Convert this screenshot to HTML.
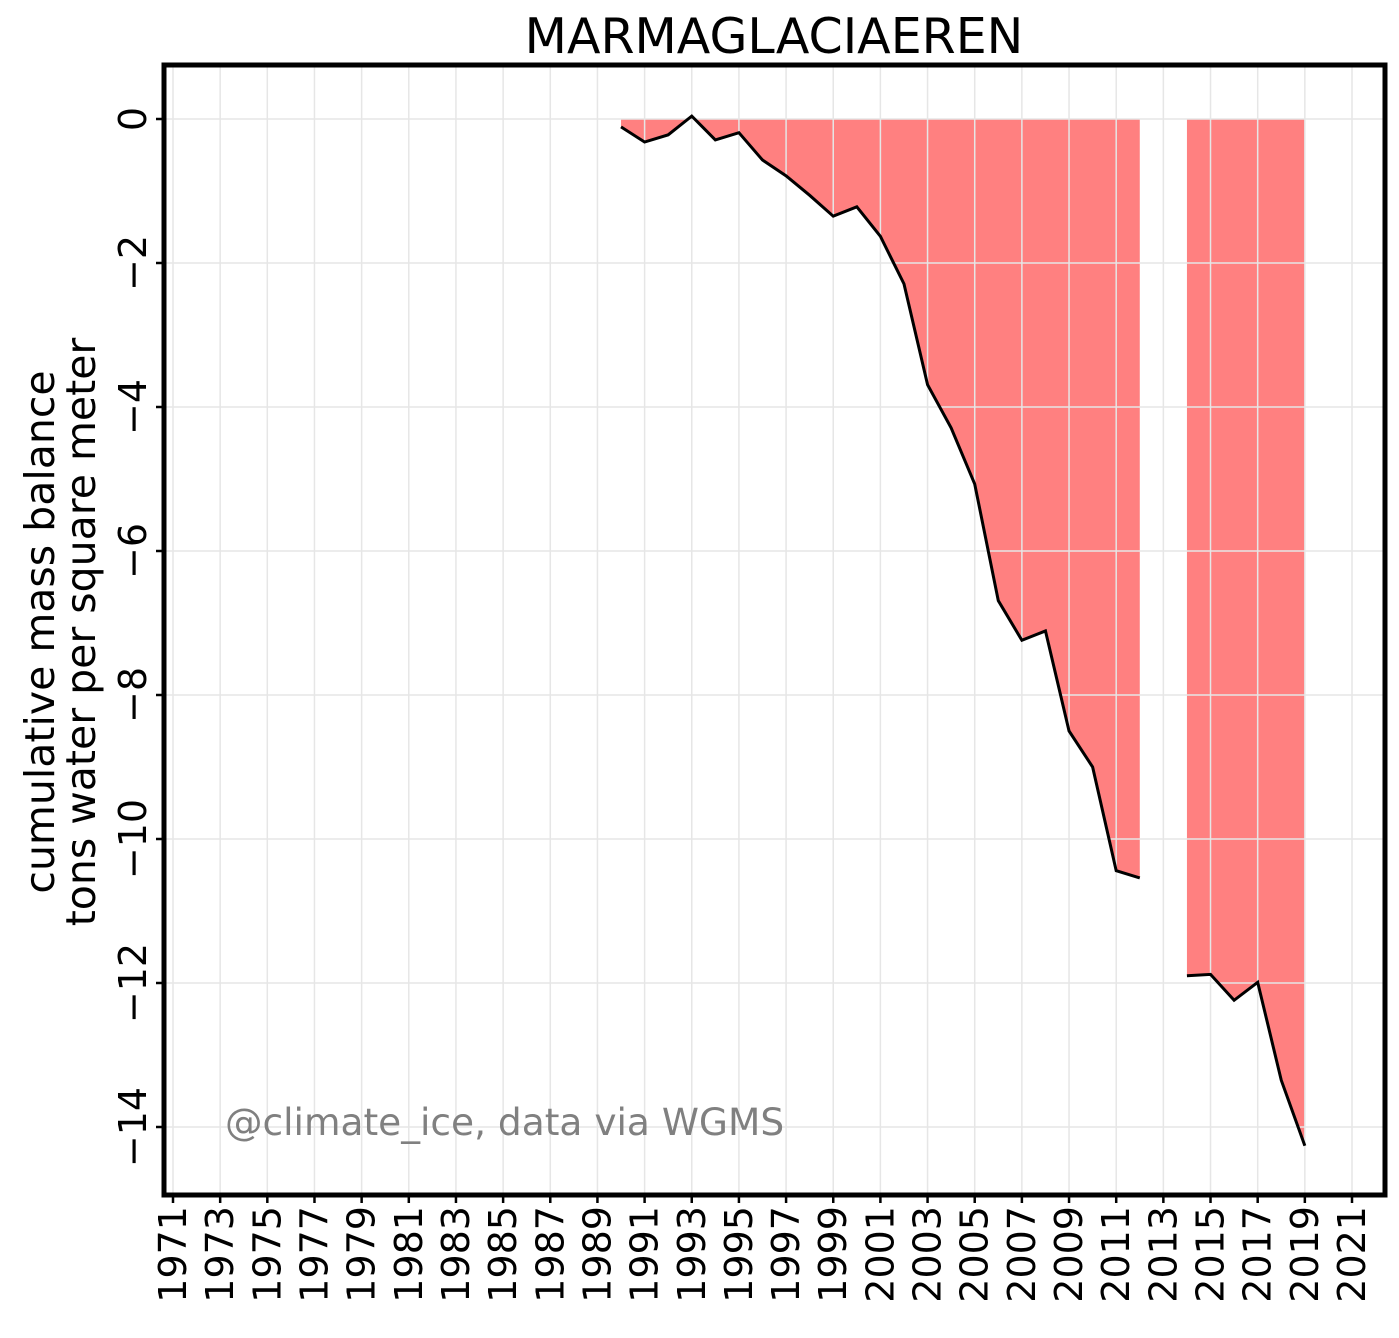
<!DOCTYPE html>
<html><head><meta charset="utf-8"><style>
body{margin:0;background:#fff;}
svg text{font-family:"DejaVu Sans","Liberation Sans",sans-serif;}
</style></head><body>
<svg id="chart" width="1399" height="1333" xmlns="http://www.w3.org/2000/svg">
<rect width="1399" height="1333" fill="#fff"/>
<text x="774" y="53" font-size="49" text-anchor="middle">MARMAGLACIAEREN</text>
<g id="grid"></g>
<g id="series"></g>
<g id="ticks"></g>
<rect x="164" y="65" width="1221" height="1130" fill="none" stroke="#000" stroke-width="5"/>
<text x="225" y="1135" font-size="37.5" fill="#808080">@climate_ice, data via WGMS</text>
<text transform="translate(54,632) rotate(-90)" font-size="41" text-anchor="middle">cumulative mass balance</text>
<text transform="translate(95,632) rotate(-90)" font-size="41" text-anchor="middle">tons water per square meter</text>
</svg>
<script>
const years=[1990,1991,1992,1993,1994,1995,1996,1997,1998,1999,2000,2001,2002,2003,2004,2005,2006,2007,2008,2009,2010,2011,2012,2013,2014,2015,2016,2017,2018,2019];
const values=[-0.11,-0.32,-0.22,0.04,-0.29,-0.19,-0.57,-0.79,-1.06,-1.35,-1.22,-1.63,-2.29,-3.69,-4.29,-5.07,-6.69,-7.24,-7.11,-8.5,-9.0,-10.44,-10.54,null,-11.9,-11.88,-12.24,-11.99,-13.35,-14.26];
const yTicks=[0,-2,-4,-6,-8,-10,-12,-14];
const xTickYears=[1971,1973,1975,1977,1979,1981,1983,1985,1987,1989,1991,1993,1995,1997,1999,2001,2003,2005,2007,2009,2011,2013,2015,2017,2019,2021];

const NS="http://www.w3.org/2000/svg";
const X=y=>173+(y-1971)*(1179/50);
const Y=v=>119-v*72;
function mk(t,a,p){const e=document.createElementNS(NS,t);for(const k in a)e.setAttribute(k,a[k]);p.appendChild(e);return e;}
const grid=document.getElementById('grid'),series=document.getElementById('series'),ticks=document.getElementById('ticks');

let segs=[],cur=[];
years.forEach((y,i)=>{if(values[i]===null){if(cur.length)segs.push(cur);cur=[];}else cur.push([y,values[i]]);});
if(cur.length)segs.push(cur);
segs.forEach(s=>{
  let d='M'+X(s[0][0])+','+Y(0);
  s.forEach(p=>d+=' L'+X(p[0])+','+Y(p[1]));
  d+=' L'+X(s[s.length-1][0])+','+Y(0)+'Z';
  const a=mk('path',{d:d,fill:'#ff8080'},series);
  
  
});
const gl=document.createElementNS(NS,'g');series.appendChild(gl);
xTickYears.forEach(y=>{const l=mk('line',{x1:X(y),x2:X(y),y1:65,y2:1195,stroke:'#e6e6e6','stroke-width':1.5},gl);
  });
yTicks.forEach(v=>{const l=mk('line',{x1:164,x2:1385,y1:Y(v),y2:Y(v),stroke:'#e6e6e6','stroke-width':1.5},gl);
  });
segs.forEach(s=>{
  const l=mk('polyline',{points:s.map(p=>X(p[0])+','+Y(p[1])).join(' '),fill:'none',stroke:'#000','stroke-width':3},series);
  
  
});
yTicks.forEach(v=>{
  mk('line',{x1:156,x2:164,y1:Y(v),y2:Y(v),stroke:'#000','stroke-width':2.5},ticks);
  const t=mk('text',{transform:`translate(146,${Y(v)}) rotate(-90)`,'font-size':38,'text-anchor':'middle'},ticks);
  t.textContent=v<0?'\u2212'+(-v):String(v);
  
  
});
xTickYears.forEach(y=>{
  mk('line',{x1:X(y),x2:X(y),y1:1195,y2:1203,stroke:'#000','stroke-width':2.5},ticks);
  const t=mk('text',{transform:`translate(${X(y)+13},1206) rotate(-90)`,'font-size':38,'text-anchor':'end'},ticks);
  t.textContent=y;
  
  
});
</script>
</body></html>
